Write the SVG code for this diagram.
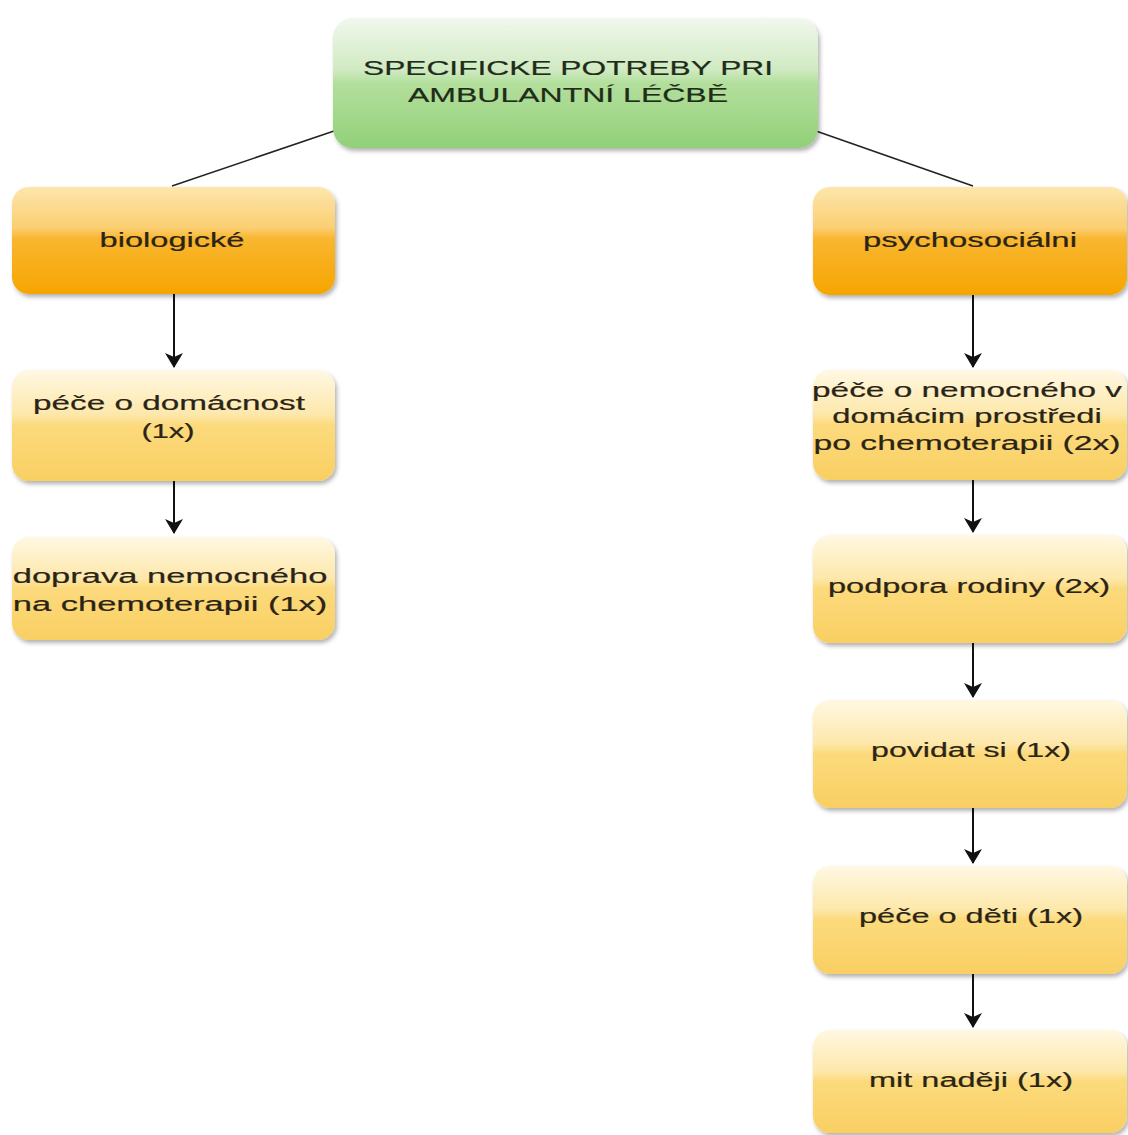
<svg xmlns="http://www.w3.org/2000/svg" width="1128" height="1135" viewBox="0 0 1128 1135">
  <style>
    .lbl { font-family: "Liberation Sans", Arial, sans-serif; font-size: 21px; fill: #2a2416; stroke: #2a2416; stroke-width: 0.2; text-anchor: middle; }
    .ttl { fill: #1e2c18; stroke: #1e2c18; }
    .box { filter: url(#shadow); }
    .link { stroke: #222; stroke-width: 1.6; fill: none; }
    .flow { stroke: #111; stroke-width: 2; fill: none; marker-end: url(#arrow); }
  </style>
  <defs>
    <linearGradient id="gGreen" x1="0" y1="0" x2="0" y2="1">
      <stop offset="0" stop-color="#f1f8ed"/>
      <stop offset="0.4" stop-color="#d0eac2"/>
      <stop offset="0.5" stop-color="#b3df9d"/>
      <stop offset="1" stop-color="#92d078"/>
    </linearGradient>
    <linearGradient id="gOrange" x1="0" y1="0" x2="0" y2="1">
      <stop offset="0" stop-color="#fde6ad"/>
      <stop offset="0.38" stop-color="#fbcf72"/>
      <stop offset="0.48" stop-color="#f9b630"/>
      <stop offset="1" stop-color="#f6a500"/>
    </linearGradient>
    <linearGradient id="gYellow" x1="0" y1="0" x2="0" y2="1">
      <stop offset="0" stop-color="#fff8e3"/>
      <stop offset="0.4" stop-color="#fde8ab"/>
      <stop offset="0.5" stop-color="#fcda7c"/>
      <stop offset="1" stop-color="#f9cf62"/>
    </linearGradient>
    <filter id="shadow" x="-5%" y="-5%" width="112%" height="120%">
      <feDropShadow dx="2" dy="3" stdDeviation="2" flood-color="#000" flood-opacity="0.3"/>
    </filter>
    <marker id="arrow" markerUnits="userSpaceOnUse" markerWidth="15" markerHeight="18" viewBox="0 0 15 18" refX="14" refY="9" orient="auto">
      <path d="M0,0 L15,9 L0,18 L4,9 Z" fill="#111"/>
    </marker>
  </defs>

  <!-- connectors -->
  <g id="connectors">
    <line class="link" x1="334" y1="131" x2="172" y2="186"/>
    <line class="link" x1="816" y1="131" x2="973" y2="186"/>
    <line class="flow" x1="174" y1="294" x2="174" y2="367"/>
    <line class="flow" x1="174" y1="481" x2="174" y2="533"/>
    <line class="flow" x1="973" y1="295" x2="973" y2="367"/>
    <line class="flow" x1="973" y1="480" x2="973" y2="532"/>
    <line class="flow" x1="973" y1="643" x2="973" y2="697"/>
    <line class="flow" x1="973" y1="808" x2="973" y2="863"/>
    <line class="flow" x1="973" y1="974" x2="973" y2="1027"/>
  </g>

  <!-- root -->
  <g id="root">
    <rect class="box" x="333" y="18" width="485" height="130" rx="20" fill="url(#gGreen)"/>
    <text class="lbl ttl" transform="translate(568,75) scale(1.55,1)" textLength="264.5" lengthAdjust="spacingAndGlyphs">SPECIFICKE POTREBY PRI</text>
    <text class="lbl ttl" transform="translate(568,102) scale(1.55,1)" textLength="206.5" lengthAdjust="spacingAndGlyphs">AMBULANTNÍ LÉČBĚ</text>
  </g>

  <!-- left branch -->
  <g id="biologicke">
    <rect class="box" x="12" y="187" width="323" height="107" rx="17" fill="url(#gOrange)"/>
    <text class="lbl" transform="translate(172,247) scale(1.55,1)" textLength="93.5" lengthAdjust="spacingAndGlyphs">biologické</text>
  </g>
  <g id="pece-domacnost">
    <rect class="box" x="12" y="370" width="323" height="111" rx="17" fill="url(#gYellow)"/>
    <text class="lbl" transform="translate(169,410) scale(1.55,1)" textLength="175.5" lengthAdjust="spacingAndGlyphs">péče o domácnost</text>
    <text class="lbl" transform="translate(168,438) scale(1.55,1)" textLength="34.2" lengthAdjust="spacingAndGlyphs">(1x)</text>
  </g>
  <g id="doprava">
    <rect class="box" x="12" y="537" width="323" height="103" rx="17" fill="url(#gYellow)"/>
    <text class="lbl" transform="translate(170,583) scale(1.55,1)" textLength="203" lengthAdjust="spacingAndGlyphs">doprava nemocného</text>
    <text class="lbl" transform="translate(170,611) scale(1.55,1)" textLength="203" lengthAdjust="spacingAndGlyphs">na chemoterapii (1x)</text>
  </g>

  <!-- right branch -->
  <g id="psychosocialni">
    <rect class="box" x="813" y="187" width="314" height="108" rx="17" fill="url(#gOrange)"/>
    <text class="lbl" transform="translate(970,247) scale(1.55,1)" textLength="138" lengthAdjust="spacingAndGlyphs">psychosociálni</text>
  </g>
  <g id="pece-nemocny">
    <rect class="box" x="813" y="370" width="314" height="110" rx="17" fill="url(#gYellow)"/>
    <text class="lbl" transform="translate(967,397) scale(1.55,1)" textLength="200" lengthAdjust="spacingAndGlyphs">péče o nemocného v</text>
    <text class="lbl" transform="translate(967,423) scale(1.55,1)" textLength="174" lengthAdjust="spacingAndGlyphs">domácim prostředi</text>
    <text class="lbl" transform="translate(967,450) scale(1.55,1)" textLength="198" lengthAdjust="spacingAndGlyphs">po chemoterapii (2x)</text>
  </g>
  <g id="podpora-rodiny">
    <rect class="box" x="813" y="535" width="314" height="108" rx="17" fill="url(#gYellow)"/>
    <text class="lbl" transform="translate(969,593) scale(1.55,1)" textLength="182" lengthAdjust="spacingAndGlyphs">podpora rodiny (2x)</text>
  </g>
  <g id="povidat">
    <rect class="box" x="813" y="700" width="314" height="108" rx="17" fill="url(#gYellow)"/>
    <text class="lbl" transform="translate(971,757) scale(1.55,1)" textLength="129" lengthAdjust="spacingAndGlyphs">povidat si (1x)</text>
  </g>
  <g id="pece-deti">
    <rect class="box" x="813" y="866" width="314" height="108" rx="17" fill="url(#gYellow)"/>
    <text class="lbl" transform="translate(971,923) scale(1.55,1)" textLength="144.5" lengthAdjust="spacingAndGlyphs">péče o děti (1x)</text>
  </g>
  <g id="nadeje">
    <rect class="box" x="813" y="1030" width="314" height="103" rx="17" fill="url(#gYellow)"/>
    <text class="lbl" transform="translate(971,1087) scale(1.55,1)" textLength="131.6" lengthAdjust="spacingAndGlyphs">mit naději (1x)</text>
  </g>
</svg>
